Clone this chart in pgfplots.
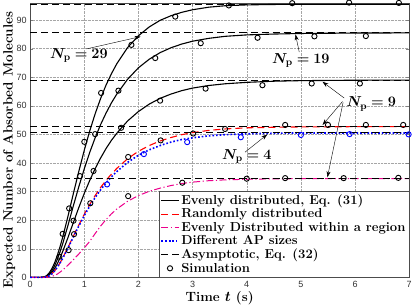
\documentclass[border=0pt]{standalone}
\usepackage{fontspec}
\setsansfont{Liberation Sans}
\usepackage{bm}
\usepackage{pgfplots}
\pgfplotsset{compat=1.18}
\usetikzlibrary{arrows.meta,calc}
\begin{document}
\begin{tikzpicture}
\begin{axis}[
  scale only axis, width=377bp, height=273bp,
  xmin=0, xmax=7, ymin=0, ymax=96,
  xtick={0,1,...,7}, ytick={0,10,...,90},
  grid=major, major grid style={densely dotted, black!35, line width=0.4pt},
  tick align=inside, major tick length=3pt,
  axis line style={black!70, line width=0.6pt},
  /pgf/number format/assume math mode=true,
  ticklabel style={font=\sffamily\fontsize{9}{10}\selectfont, text=black!80},
  xlabel style={at={(axis description cs:0.5,-0.075)}, anchor=center},
  ylabel style={at={(axis description cs:-0.055,0.464)}, anchor=center},
  label style={font=\bfseries\fontsize{13.4}{15}\selectfont},
  xlabel={Time $\bm{t}$ (s)},
  ylabel={Expected Number of Absorbed Molecules},
  clip=false,
  legend style={at={(1,0)}, anchor=south east, font=\bfseries\fontsize{13}{14}\selectfont,
    draw=black!70, fill=white, inner sep=1.5pt, row sep=-1.2pt},
  legend cell align=left,
]
% Evenly distributed
\addplot[black, line width=1.1pt] coordinates {
(0,0) (0.2,0) (0.25,0.1) (0.3,0.5) (0.35,1.5) (0.4,3) (0.45,5) (0.5,7.6) (0.55,10.6) (0.6,14) (0.7,21.5) (0.8,29.5) (0.9,37.2) (1.0,44.5) (1.1,51.2) (1.2,57.2) (1.3,62.5) (1.4,67.2) (1.5,71.2) (1.6,74.7) (1.8,80.4) (2.0,84.5) (2.2,87.6) (2.4,89.9) (2.6,91.5) (2.8,92.7) (3.0,93.6) (3.3,94.5) (3.6,95) (4.0,95.3) (4.5,95.45) (5,95.5) (6,95.5) (7,95.5)};
\addlegendentry{Evenly distributed, Eq. (31)}
\addplot[black, line width=1.1pt, forget plot] coordinates {
(0,0) (0.2,0) (0.25,0.1) (0.3,0.4) (0.35,1.1) (0.4,2.3) (0.45,4) (0.5,6.2) (0.55,8.8) (0.6,11.7) (0.7,18.3) (0.8,25.2) (0.9,31.8) (1.0,38) (1.1,43.7) (1.2,48.8) (1.3,53.4) (1.4,57.4) (1.5,61) (1.6,64.1) (1.8,69.3) (2.0,73.3) (2.2,76.3) (2.4,78.6) (2.6,80.3) (2.8,81.6) (3.0,82.6) (3.3,83.6) (3.6,84.3) (4.0,84.8) (4.5,85.1) (5,85.3) (6,85.45) (7,85.5)};
\addplot[black, line width=1.1pt, forget plot] coordinates {
(0,0) (0.2,0) (0.25,0.05) (0.3,0.3) (0.35,0.8) (0.4,1.7) (0.45,3) (0.5,4.7) (0.55,6.7) (0.6,9) (0.7,14) (0.8,19.3) (0.9,24.5) (1.0,29.4) (1.1,33.9) (1.2,38) (1.3,41.7) (1.4,45) (1.5,47.9) (1.6,50.4) (1.8,54.7) (2.0,58) (2.2,60.6) (2.4,62.6) (2.6,64.1) (2.8,65.3) (3.0,66.2) (3.3,67.1) (3.6,67.7) (4.0,68.2) (4.5,68.6) (5,68.8) (6,68.95) (7,69)};
% Randomly distributed
\addplot[red, line width=1.1pt, dash pattern=on 7pt off 4pt] coordinates {
(0,0) (0.25,0) (0.3,0.15) (0.35,0.5) (0.4,1.2) (0.45,2.2) (0.5,3.5) (0.55,5) (0.6,6.7) (0.7,10.5) (0.8,14.5) (0.9,18.4) (1.0,22.1) (1.1,25.5) (1.2,28.6) (1.3,31.4) (1.4,33.9) (1.5,36.1) (1.6,38.1) (1.8,41.5) (2.0,44.1) (2.2,46.1) (2.4,47.7) (2.6,48.9) (2.8,49.9) (3.0,50.6) (3.3,51.4) (3.6,51.9) (4.0,52.3) (4.5,52.5) (5,52.6) (6,52.7) (7,52.7)};
\addlegendentry{Randomly distributed}
% Evenly distributed within a region
\addplot[magenta, line width=1pt, dash pattern=on 7pt off 2.5pt on 1.2pt off 2.5pt] coordinates {
(0,0) (0.3,0) (0.35,0.1) (0.4,0.3) (0.5,1.1) (0.6,2.5) (0.7,4.3) (0.8,6.2) (0.9,8.2) (1.0,10.3) (1.1,12.6) (1.2,15.3) (1.3,17.9) (1.4,20.2) (1.5,22.2) (1.6,23.9) (1.8,26.6) (2.0,28.6) (2.2,30.1) (2.4,31.2) (2.6,32.1) (2.8,32.8) (3.0,33.3) (3.3,33.8) (3.6,34.1) (4.0,34.3) (4.5,34.45) (5,34.5) (7,34.5)};
\addlegendentry{Evenly Distributed within a region}
% Different AP sizes
\addplot[blue, line width=1.6pt, dotted] coordinates {
(0,0) (0.25,0) (0.3,0.15) (0.35,0.5) (0.4,1.2) (0.45,2.2) (0.5,3.5) (0.55,5) (0.6,6.6) (0.7,10.3) (0.8,14.2) (0.9,18) (1.0,21.6) (1.1,24.9) (1.2,27.9) (1.3,30.6) (1.4,33) (1.5,35.1) (1.6,37) (1.8,40.2) (2.0,42.7) (2.2,44.6) (2.4,46.1) (2.6,47.3) (2.8,48.2) (3.0,48.8) (3.3,49.5) (3.6,49.9) (4.0,50.2) (4.5,50.4) (5,50.5) (6,50.5) (7,50.5)};
\addlegendentry{Different AP sizes}
% Asymptotic
\addplot[black, line width=1.1pt, dash pattern=on 7pt off 4pt] coordinates {(0,95.5) (7,95.5)};
\addlegendentry{Asymptotic, Eq. (32)}
\addplot[black, line width=1.1pt, dash pattern=on 7pt off 4pt, forget plot] coordinates {(0,85.5) (7,85.5)};
\addplot[black, line width=1.1pt, dash pattern=on 7pt off 4pt, forget plot] coordinates {(0,69) (7,69)};
\addplot[black, line width=1.1pt, dash pattern=on 7pt off 4pt, forget plot] coordinates {(0,52.7) (7,52.7)};
\addplot[black, line width=1.1pt, dash pattern=on 7pt off 4pt, forget plot] coordinates {(0,50.7) (7,50.7)};
\addplot[black, line width=1.1pt, dash pattern=on 7pt off 4pt, forget plot] coordinates {(0,34.5) (7,34.5)};
% Simulation
\addplot[only marks, mark=o, mark size=2.6pt, black, line width=0.9pt] coordinates {
(0.54,7.2) (0.60,15.2) (0.71,9.5) (0.72,24.1) (0.80,19.8) (0.81,15.1) (0.92,35.4) (1.0,47.4) (1.11,25.9) (1.17,37.2) (1.2,50.1) (1.31,64.5) (1.63,65.3) (1.68,52.3) (1.81,42.1) (1.81,28.4) (1.87,81.3) (2.31,76.7) (2.41,47.9) (2.4,61.8) (2.68,91.2) (2.81,33.1) (3.01,50.3) (3.15,81.9) (3.24,66.0) (3.6,51.9) (3.67,95.1) (4.0,34.5) (4.2,83.8) (4.29,67.2) (4.71,53.3) (4.71,34.7) (4.84,95.9) (5.2,67.8) (5.25,84.3) (5.5,53.3) (5.79,34.7) (5.89,96.1) (6.09,67.8) (6.2,84.4) (6.2,53.3) (6.8,34.8) (6.81,96.0) (6.89,53.3)};
\addlegendentry{Simulation}
\addplot[only marks, mark=o, mark size=2.6pt, blue, line width=0.9pt, forget plot] coordinates {
(1.42,32.5) (2.1,43.1) (2.9,47.3) (3.89,49.0) (5.0,49.8) (5.9,50.1) (6.99,50.0)};
% Annotations
\node[font=\fontsize{14.5}{16}\selectfont] at (axis cs:0.90,77.6) {$\bm{N_{\mathbf{p}} = 29}$};
\draw[black, line width=0.4pt, -{Stealth[length=6pt,width=4pt]}] (axis cs:1.04,79.9) -- (axis cs:2.04,84.2);
\node[font=\fontsize{14.5}{16}\selectfont] at (axis cs:5.00,75.8) {$\bm{N_{\mathbf{p}} = 19}$};
\draw[black, line width=0.4pt, -{Stealth[length=6pt,width=4pt]}] (axis cs:4.97,78.8) -- (axis cs:4.90,85.0);
\node[font=\fontsize{14.5}{16}\selectfont] at (axis cs:6.30,60.6) {$\bm{N_{\mathbf{p}} = 9}$};
\draw[black, line width=0.4pt, -{Stealth[length=6pt,width=4pt]}] (axis cs:5.80,62.7) -- (axis cs:5.40,68.4);
\draw[black, line width=0.4pt, -{Stealth[length=6pt,width=4pt]}] (axis cs:5.77,61.5) -- (axis cs:5.40,53.3);
\draw[black, line width=0.4pt, -{Stealth[length=6pt,width=4pt]}] (axis cs:5.78,61.2) -- (axis cs:5.49,35.0);
\node[font=\fontsize{14.5}{16}\selectfont] at (axis cs:4.00,42.2) {$\bm{N_{\mathbf{p}} = 4}$};
\draw[black, line width=0.4pt, -{Stealth[length=6pt,width=4pt]}] (axis cs:3.97,43.8) -- (axis cs:4.38,50.0);
\end{axis}
\end{tikzpicture}
\end{document}
